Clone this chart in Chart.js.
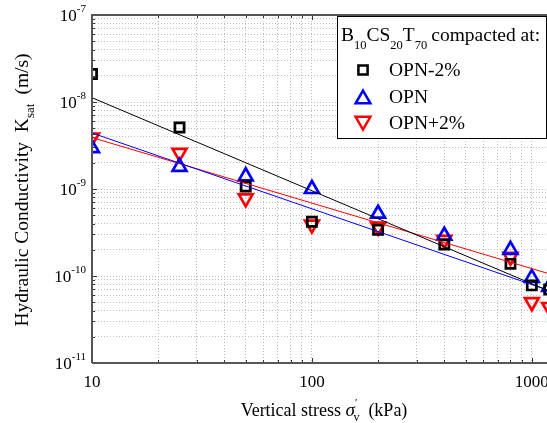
<!DOCTYPE html>
<html>
<head>
<meta charset="utf-8">
<script src="https://cdn.jsdelivr.net/npm/chart.js@4"></script>
<style>
  html, body { margin: 0; padding: 0; background: #fff; overflow: hidden; }
  #wrap { width: 547px; height: 423px; overflow: hidden; position: relative; }
  canvas { position: absolute; left: 0; top: 0; }
</style>
</head>
<body>
<div id="wrap"><canvas id="ksatChart" width="640" height="423"></canvas></div>
<script>
// vertical stress (kPa)
const stress = [10, 25, 50, 100, 200, 400, 800, 1000, 1200];
// Ksat (m/s) per compaction water content
const opnMinus2 = [2.1e-8, 5.1e-9, 1.07e-9, 4.2e-10, 3.4e-10, 2.3e-10, 1.38e-10, 7.8e-11, 7.0e-11];
const opn = [2.95e-9, 1.8e-9, 1.4e-9, 1.0e-9, 5.2e-10, 2.9e-10, 2.0e-10, 9.5e-11, 7.5e-11];
const opnPlus2 = [3.9e-9, 2.6e-9, 7.8e-10, 3.9e-10, 3.7e-10, 2.6e-10, 1.66e-10, 5.0e-11, 4.4e-11];
// power-law fit lines, end points
const fitX = [10, 1200];
const fitMinus2 = [1.12e-8, 6.7e-11];
const fitOpn = [4.4e-9, 6.8e-11];
const fitPlus2 = [3.9e-9, 1.06e-10];

const xTicks = [10, 100, 1000];
const yDecades = [-11, -10, -9, -8, -7];

const serif = '"Liberation Serif", "Times New Roman", serif';

function pts(xs, ys) {
    return xs.map((x, i) => ({ x: x, y: ys[i] }));
}

function logTicks(lo, hi) {
    const out = [];
    for (let e = lo; e < hi; e++) {
        for (let k = 1; k < 10; k++) out.push(k * Math.pow(10, e));
    }
    out.push(Math.pow(10, hi));
    return out;
}

// draw text made of pieces (normal / sub / sup)
function richText(ctx, parts, x, y, align) {
    let total = 0;
    parts.forEach(p => {
        ctx.font = (p.italic ? 'italic ' : '') + p.size + 'px ' + serif;
        p.w = ctx.measureText(p.t).width;
        total += p.w + (p.gap || 0);
    });
    let cx = align === 'center' ? x - total / 2 : (align === 'right' ? x - total : x);
    ctx.textBaseline = 'alphabetic';
    ctx.textAlign = 'left';
    parts.forEach(p => {
        ctx.font = (p.italic ? 'italic ' : '') + p.size + 'px ' + serif;
        ctx.fillText(p.t, cx, y + (p.dy || 0));
        cx += p.w + (p.gap || 0);
    });
}

const decor = {
    id: 'decor',
    beforeDatasetsDraw(chart) {
        const ctx = chart.ctx;
        const a = chart.chartArea;
        const xs = chart.scales.x, ys = chart.scales.y;
        ctx.save();
        ctx.setLineDash([]);
        ctx.strokeStyle = '#333';
        ctx.lineWidth = 1;
        // inward ticks
        xs.ticks.forEach(t => {
            const px = Math.round(xs.getPixelForValue(t.value)) + 0.5;
            const lg = Math.log10(t.value);
            const major = Math.abs(lg - Math.round(lg)) < 1e-6;
            const len = major ? 5 : 3;
            ctx.beginPath();
            ctx.moveTo(px, a.bottom);
            ctx.lineTo(px, a.bottom - len);
            ctx.moveTo(px, a.top);
            ctx.lineTo(px, a.top + len);
            ctx.stroke();
        });
        ys.ticks.forEach(t => {
            const py = Math.round(ys.getPixelForValue(t.value)) + 0.5;
            const lg = Math.log10(t.value);
            const major = Math.abs(lg - Math.round(lg)) < 1e-6;
            const len = major ? 5 : 3;
            ctx.beginPath();
            ctx.moveTo(a.left, py);
            ctx.lineTo(a.left + len, py);
            ctx.stroke();
        });
        ctx.restore();
    },
    afterDraw(chart) {
        const ctx = chart.ctx;
        const a = chart.chartArea;
        const xs = chart.scales.x, ys = chart.scales.y;
        ctx.save();
        // frame lines
        ctx.strokeStyle = '#555';
        ctx.lineWidth = 2;
        ctx.beginPath();
        ctx.moveTo(a.left, a.bottom);
        ctx.lineTo(a.left, a.top);
        ctx.lineTo(a.right, a.top);
        ctx.moveTo(a.left, a.bottom);
        ctx.lineTo(a.right, a.bottom);
        ctx.stroke();
        ctx.fillStyle = '#000';
        // y tick labels 10^n
        yDecades.forEach(e => {
            const py = ys.getPixelForValue(Math.pow(10, e));
            richText(ctx, [
                { t: '10', size: 17 },
                { t: String(e), size: 11, dy: -9 }
            ], 86, py + 6, 'right');
        });
        // x tick labels
        xTicks.forEach(v => {
            const px = xs.getPixelForValue(v);
            ctx.font = '17px ' + serif;
            ctx.textAlign = 'center';
            ctx.textBaseline = 'alphabetic';
            ctx.fillText(String(v), px, 387);
        });
        // x title
        richText(ctx, [
            { t: 'Vertical stress ', size: 18 },
            { t: 'σ', size: 19, italic: true },
            { t: '′', size: 11, dy: -10, gap: -4 },
            { t: 'v', size: 12, dy: 5, gap: 9 },
            { t: '(kPa)', size: 18 }
        ], 324, 416, 'center');
        // y title (rotated)
        ctx.translate(28, 190);
        ctx.rotate(-Math.PI / 2);
        richText(ctx, [
            { t: 'Hydraulic Conductivity  K', size: 19.5 },
            { t: 'sat', size: 13, dy: 6, gap: 9 },
            { t: '(m/s)', size: 19.5 }
        ], 0, 0, 'center');
        ctx.restore();

        // legend box
        ctx.save();
        const lx = 337, ly = 16, lw = 209, lh = 122;
        ctx.fillStyle = '#fff';
        ctx.fillRect(lx, ly, lw, lh);
        ctx.strokeStyle = '#000';
        ctx.lineWidth = 1;
        ctx.strokeRect(lx + 0.5, ly + 0.5, lw, lh);
        ctx.fillStyle = '#000';
        richText(ctx, [
            { t: 'B', size: 19.5 },
            { t: '10', size: 12.5, dy: 8 },
            { t: 'CS', size: 19.5 },
            { t: '20', size: 12.5, dy: 8 },
            { t: 'T', size: 19.5 },
            { t: '70', size: 12.5, dy: 8, gap: 4 },
            { t: 'compacted at:', size: 19.5 }
        ], lx + 4, 41, 'left');
        const entries = [
            { label: 'OPN-2%', color: '#000', style: 'rect', r: 6.5, rot: 0, y: 70 },
            { label: 'OPN', color: '#0000ff', style: 'triangle', r: 8.5, rot: 0, y: 97 },
            { label: 'OPN+2%', color: '#ff0000', style: 'triangle', r: 8.5, rot: 180, y: 123 }
        ];
        entries.forEach(en => {
            ctx.strokeStyle = en.color;
            ctx.fillStyle = 'rgba(0,0,0,0)';
            ctx.lineWidth = 2.5;
            Chart.helpers.drawPoint(ctx, { pointStyle: en.style, radius: en.r, rotation: en.rot, borderWidth: 2.5 }, 363, en.y + (en.style === 'triangle' ? (en.rot ? -2 : 2) : 0));
            ctx.fillStyle = '#000';
            ctx.font = '19.5px ' + serif;
            ctx.textAlign = 'left';
            ctx.textBaseline = 'middle';
            ctx.fillText(en.label, 389, en.y + 1);
        });
        ctx.restore();
    }
};

const ctx = document.getElementById('ksatChart').getContext('2d');

new Chart(ctx, {
    type: 'scatter',
    data: {
        datasets: [
            {
                label: 'fit OPN-2%',
                data: pts(fitX, fitMinus2),
                showLine: true,
                borderColor: '#000',
                borderWidth: 1,
                pointRadius: 0,
                clip: 0
            },
            {
                label: 'fit OPN',
                data: pts(fitX, fitOpn),
                showLine: true,
                borderColor: '#0000ff',
                borderWidth: 1,
                pointRadius: 0,
                clip: 0
            },
            {
                label: 'fit OPN+2%',
                data: pts(fitX, fitPlus2),
                showLine: true,
                borderColor: '#ff0000',
                borderWidth: 1,
                pointRadius: 0,
                clip: 0
            },
            {
                label: 'OPN-2%',
                data: pts(stress, opnMinus2),
                pointStyle: 'rect',
                pointRadius: 6.5,
                borderColor: '#000',
                backgroundColor: 'rgba(0,0,0,0)',
                pointBorderWidth: 2.7,
                clip: 0
            },
            {
                label: 'OPN',
                data: pts(stress, opn),
                pointStyle: 'triangle',
                pointRadius: 8,
                borderColor: '#0000ff',
                backgroundColor: 'rgba(0,0,0,0)',
                pointBorderWidth: 2.7,
                clip: 0
            },
            {
                label: 'OPN+2%',
                data: pts(stress, opnPlus2),
                pointStyle: 'triangle',
                rotation: 180,
                pointRadius: 8,
                borderColor: '#ff0000',
                backgroundColor: 'rgba(0,0,0,0)',
                pointBorderWidth: 2.7,
                clip: 0
            }
        ]
    },
    options: {
        responsive: false,
        animation: false,
        layout: {
            padding: { left: 92, top: 15, right: 42, bottom: 60 }
        },
        plugins: {
            legend: { display: false },
            tooltip: { enabled: false }
        },
        scales: {
            x: {
                type: 'logarithmic',
                min: 10,
                max: 2000,
                afterBuildTicks: axis => {
                    axis.ticks = logTicks(1, 3).concat([2000]).map(v => ({ value: v }));
                },
                ticks: { display: false },
                grid: {
                    drawTicks: false,
                    color: '#bdbdbd',
                    lineWidth: 1
                },
                border: { display: false, dash: [1, 2] }
            },
            y: {
                type: 'logarithmic',
                min: 1e-11,
                max: 1e-7,
                afterBuildTicks: axis => {
                    axis.ticks = logTicks(-11, -7).map(v => ({ value: v }));
                },
                ticks: { display: false },
                grid: {
                    drawTicks: false,
                    color: '#bdbdbd',
                    lineWidth: 1
                },
                border: { display: false, dash: [1, 2] }
            }
        }
    },
    plugins: [decor]
});
</script>
</body>
</html>
